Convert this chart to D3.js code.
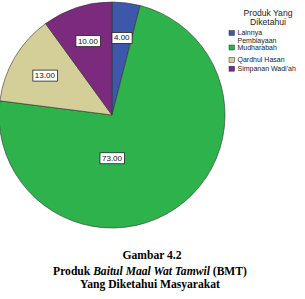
<!DOCTYPE html>
<html>
<head>
<meta charset="utf-8">
<script src="https://cdn.jsdelivr.net/npm/d3@7"></script>
<style>
  body { margin: 0; background: #fff; }
  svg { display: block; }
  .legend text { font-family: "Liberation Sans", Arial, sans-serif; font-size: 7px; fill: #222; }
  .legend text.title { font-size: 8.6px; }
  .slice-label { font-family: "Liberation Sans", Arial, sans-serif; font-size: 8px; fill: #111; }
  .caption { font-family: "Liberation Serif", "Times New Roman", serif; font-size: 11.6px; font-weight: bold; fill: #000; }
</style>
</head>
<body>
<div id="chart"></div>
<script>
// data
const categories = ["Lainnya", "Pembiayaan Mudharabah", "Qardhul Hasan", "Simpanan Wadi'ah"];
const values = [4, 73, 13, 10];
const colors = ["#3d58ab", "#2eb24b", "#d4cf98", "#7b2a7e"];
const legendTitle = ["Produk Yang", "Diketahui"];

const width = 305, height = 299;
const cx = 112, cy = 115, radius = 113;

const svg = d3.select("#chart").append("svg")
    .attr("width", width)
    .attr("height", height);

const data = categories.map((c, i) => ({ name: c, value: values[i], color: colors[i] }));

const pie = d3.pie().sort(null).value(d => d.value);
const arc = d3.arc().innerRadius(0).outerRadius(radius);
const labelArc = d3.arc().innerRadius(radius * 0.69).outerRadius(radius * 0.69);

const g = svg.append("g").attr("transform", `translate(${cx},${cy})`);
const arcs = pie(data);

g.selectAll("path.slice")
    .data(arcs)
    .enter()
    .append("path")
    .attr("class", "slice")
    .attr("d", arc)
    .attr("fill", d => d.data.color)
    .attr("stroke", "#333")
    .attr("stroke-width", 0.6);

// value labels in little boxes
const labels = g.selectAll("g.lbl")
    .data(arcs)
    .enter()
    .append("g")
    .attr("class", "lbl")
    .attr("transform", d => {
        let p = labelArc.centroid(d);
        // the big slice label sits straight below the center, as in SPSS
        if (d.data.value > 50) p = [0, radius * 0.38];
        return `translate(${p[0]},${p[1]})`;
    });

labels.append("rect")
    .attr("fill", "#fff")
    .attr("stroke", "#222")
    .attr("stroke-width", 0.8);

labels.append("text")
    .attr("class", "slice-label")
    .attr("text-anchor", "middle")
    .attr("dy", "0.35em")
    .text(d => d3.format(".2f")(d.data.value));

labels.each(function () {
    const t = d3.select(this).select("text").node().getBBox();
    d3.select(this).select("rect")
        .attr("x", t.x - 2)
        .attr("y", t.y - 1)
        .attr("width", t.width + 4)
        .attr("height", t.height + 2);
});

// legend
const legend = svg.append("g").attr("class", "legend");

legend.selectAll("text.title")
    .data(legendTitle)
    .enter()
    .append("text")
    .attr("class", "title")
    .attr("text-anchor", "middle")
    .attr("x", 268)
    .attr("y", (d, i) => 16 + i * 8.5)
    .text(d => d);

const rowY = d3.scaleOrdinal().domain(categories).range([33, 47.5, 60, 68.7]);

const rows = legend.selectAll("g.row")
    .data(data)
    .enter()
    .append("g")
    .attr("class", "row")
    .attr("transform", d => `translate(229,${rowY(d.name)})`);

rows.append("rect")
    .attr("x", 0)
    .attr("y", -2.5)
    .attr("width", 5.5)
    .attr("height", 5)
    .attr("fill", d => d.color)
    .attr("stroke", "#333")
    .attr("stroke-width", 0.5);

rows.each(function (d) {
    const lines = d.name === "Pembiayaan Mudharabah" ? ["Pembiayaan", "Mudharabah"] : [d.name];
    const off = lines.length > 1 ? -6.8 : 0;
    d3.select(this).selectAll("text")
        .data(lines)
        .enter()
        .append("text")
        .attr("x", 8.5)
        .attr("y", (l, i) => off + i * 7.2)
        .attr("dy", "0.35em")
        .text(l => l);
});

// caption below the chart
const caption = svg.append("text")
    .attr("class", "caption")
    .attr("text-anchor", "middle");

caption.append("tspan").attr("x", 152).attr("y", 259).text("Gambar 4.2");

const line2 = caption.append("tspan").attr("x", 150).attr("y", 274.5);
line2.append("tspan").text("Produk ");
line2.append("tspan").attr("font-style", "italic").text("Baitul Maal Wat Tamwil");
line2.append("tspan").text(" (BMT)");

caption.append("tspan").attr("x", 150).attr("y", 287.5).text("Yang Diketahui Masyarakat");
</script>
</body>
</html>
